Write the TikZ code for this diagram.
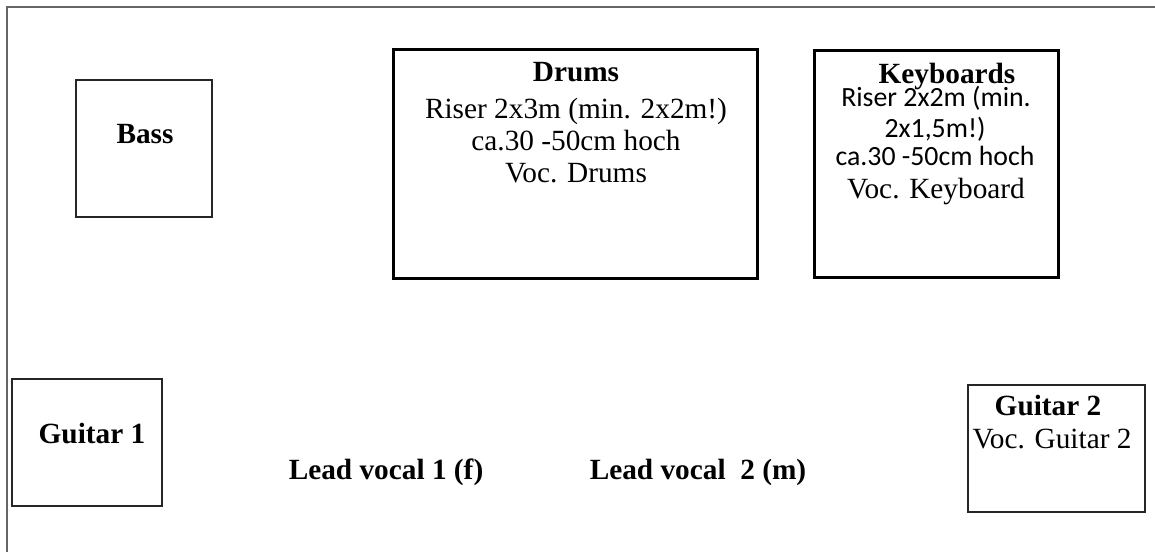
\documentclass[tikz,border=0pt]{standalone}
\usepackage{fontspec}
\setmainfont{Liberation Serif}
\newfontfamily\kbsans{Carlito}
\begin{document}
\begin{tikzpicture}[x=1pt,y=-1pt,
  thinbox/.style={draw=black!85,line width=1.1pt,rectangle,inner sep=0pt},
  riserbox/.style={draw=black,line width=3pt,rectangle,inner sep=0pt},
  txt/.style={anchor=base,inner sep=0pt,font=\fontsize{29.3}{33}\selectfont},
  btxt/.style={txt,font=\fontsize{29.3}{33}\selectfont\bfseries},
  stxt/.style={anchor=base,inner sep=0pt,font=\kbsans\fontsize{27.8}{31}\selectfont}]
\useasboundingbox (0,0) rectangle (1155,552);
% stage outline
\coordinate (tr) at (1155,7);
\coordinate (tl) at (7,7);
\coordinate (bl) at (7,552);
\draw[black!60,line width=1.6pt] (tr) -- (tl) -- (bl);
% boxes
\node[thinbox,minimum width=136pt,minimum height=137pt] (bass) at (144,148.5) {};
\node[riserbox,minimum width=364pt,minimum height=229pt] (drums) at (575,163.5) {};
\node[riserbox,minimum width=244pt,minimum height=227pt] (keys) at (936,163.5) {};
\node[thinbox,minimum width=150pt,minimum height=127pt] (gt1) at (87,442.5) {};
\node[thinbox,minimum width=177pt,minimum height=127pt] (gt2) at (1056.5,448.5) {};
% texts
\node[btxt] (bassT) at (145,143) {Bass};
\node[btxt] (drT1) at (576,81) {Drums};
\node[txt] (drT2) at (576,118) {Riser 2x3m (min. 2x2m!)};
\node[txt] (drT3) at (576,150) {ca.30 -50cm hoch};
\node[txt] (drT4) at (576,182) {Voc. Drums};
\node[btxt] (kbT1) at (947,83) {Keyboards};
\node[stxt] (kbT2) at (936,106) {Riser 2x2m (min.};
\node[stxt] (kbT3) at (935,137) {2x1,5m!)};
\node[stxt] (kbT4) at (935,165) {ca.30 -50cm hoch};
\node[txt] (kbT5) at (936,198) {Voc. Keyboard};
\node[btxt] (g1T) at (92,443) {Guitar 1};
\node[btxt] (g2T1) at (1048,415) {Guitar 2};
\node[txt] (g2T2) at (1052,448) {Voc. Guitar 2};
\node[btxt] (lv1) at (386,479) {Lead vocal 1 (f)};
\node[btxt] (lv2) at (698,479) {Lead vocal\ \ 2 (m)};
\end{tikzpicture}
\end{document}
